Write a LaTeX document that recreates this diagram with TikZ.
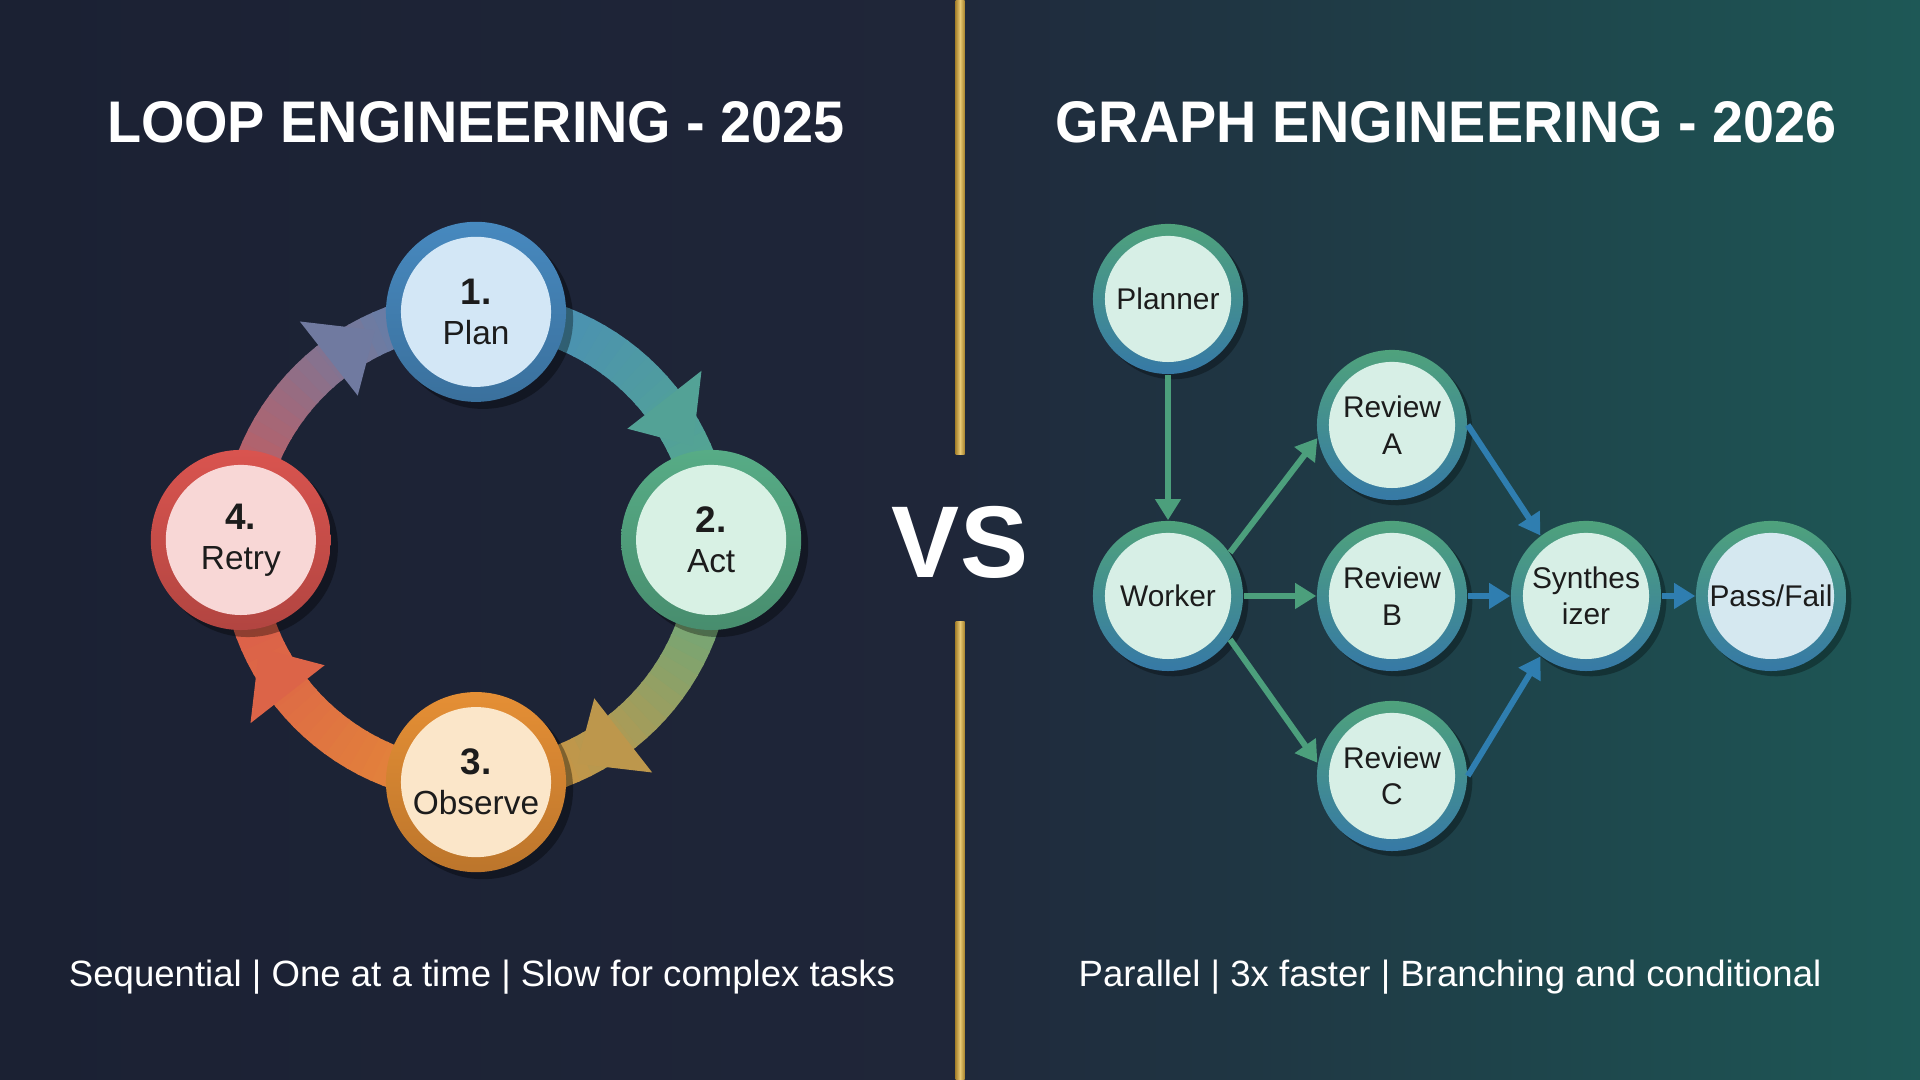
\documentclass[tikz,border=0pt]{standalone}
\usepackage{fontspec}
\setmainfont{Liberation Sans}
\newfontfamily\titrefont[FakeStretch=0.95]{Liberation Sans}
\usetikzlibrary{calc}
\usetikzlibrary{arrows.meta}
\usetikzlibrary{shadows}

\definecolor{fondg1}{HTML}{1B2133}
\definecolor{fondg2}{HTML}{1F2639}
\definecolor{fondd1}{HTML}{1F283B}
\definecolor{fondd2}{HTML}{1E5856}
\definecolor{ord}{HTML}{A98530}
\definecolor{ordclair}{HTML}{E8C873}
\definecolor{bleuplan}{HTML}{4789BF}
\definecolor{vertact}{HTML}{57AC86}
\definecolor{orobs}{HTML}{E58F35}
\definecolor{rougeret}{HTML}{D9544F}
\definecolor{bleuclair}{HTML}{D3E7F6}
\definecolor{vertclair}{HTML}{D8F1E4}
\definecolor{orclair}{HTML}{FBE6C9}
\definecolor{rougeclair}{HTML}{F8D7D6}
\definecolor{anneauv}{HTML}{4FA27C}
\definecolor{anneaub}{HTML}{3679A6}
\definecolor{menthe}{HTML}{D7EFE6}
\definecolor{bleuglace}{HTML}{D5E8F0}
\definecolor{vertfl}{HTML}{4C9F7C}
\definecolor{bleufl}{HTML}{2F7EB0}
\definecolor{texte}{HTML}{1C1C1C}

\begin{document}
\begin{tikzpicture}[x=0.01cm, y=0.01cm,
    etape/.style 2 args={circle, inner sep=0pt, minimum size=1.8cm,
      top color=#1, bottom color=#1!82!black,
      drop shadow={shadow xshift=2pt, shadow yshift=-2pt, fill=black, opacity=0.35},
      path picture={\fill[#2] (path picture bounding box.center) circle (0.75cm);},
      text=texte, align=center, font=\fontsize{9.5}{11.4}\selectfont},
    noeud/.style={circle, inner sep=0pt, minimum size=1.5cm,
      top color=anneauv, bottom color=anneaub,
      drop shadow={shadow xshift=1.5pt, shadow yshift=-1.5pt, fill=black, opacity=0.3},
      path picture={\fill[#1] (path picture bounding box.center) circle (0.63cm);},
      text=texte, align=center, font=\fontsize{8.5}{10.4}\selectfont},
    noeud/.default=menthe,
    bande/.style={line width=12pt, line cap=butt},
    flecheverte/.style={-{Triangle[width=7pt,length=6pt]}, line width=1.7pt, vertfl},
    flechebleue/.style={-{Triangle[width=7pt,length=6pt]}, line width=1.7pt, bleufl}]

  \useasboundingbox (0,0) rectangle (1920,1080);

  % Fonds
  \shade[left color=fondg1, right color=fondg2] (0,0) rectangle (960,1080);
  \shade[left color=fondd1, right color=fondd2] (960,0) rectangle (1920,1080);

  % Separateur dore
  \shade[left color=ord, right color=ord, middle color=ordclair] (955.5,625) rectangle (964.5,1080);
  \shade[left color=ord, right color=ord, middle color=ordclair] (955.5,0) rectangle (964.5,458);
  \node (vs) at (960,502) [anchor=base, text=white, font=\bfseries\fontsize{29}{34}\selectfont] {VS};

  % Titres
  \node (titreg) at (476,937) [anchor=base, text=white, font=\titrefont\bfseries\fontsize{16.7}{20}\selectfont] {LOOP ENGINEERING - 2025};
  \node (titred) at (1446,937) [anchor=base, text=white, font=\titrefont\bfseries\fontsize{16.7}{20}\selectfont] {GRAPH ENGINEERING - 2026};

  % Boucle : centre
  \coordinate (cyc) at (476,533);

  % Arcs en degrade
  \foreach \s/\ca/\cb in {90/bleuplan/vertact, 0/vertact/orobs, -90/orobs/rougeret, -180/rougeret/bleuplan}{
    \foreach \i in {0,...,29}{
      \pgfmathsetmacro\pa{\s-\i*3}
      \pgfmathsetmacro\pb{\s-\i*3-3.6}
      \pgfmathtruncatemacro\pc{100-\i*100/29}
      \draw[bande, color=\ca!\pc!\cb] ($(cyc)+(\pa:2.35cm)$) arc[start angle=\pa, end angle=\pb, radius=2.35cm];
    }
  }

  % Pointes des fleches
  \foreach \d/\ca/\cb in {0/bleuplan/vertact, -90/vertact/orobs, -180/orobs/rougeret, -270/rougeret/bleuplan}{
    \fill[\ca!28!\cb] ($(cyc)+({\d+38}:1.92cm)$) -- ($(cyc)+({\d+38}:2.86cm)$) -- ($(cyc)+({\d+25}:2.39cm)$) -- cycle;
  }

  % Etapes
  \node[etape={bleuplan}{bleuclair}] (plan) at ($(cyc)+(90:2.35cm)$) {{\bfseries\fontsize{10.5}{11.4}\selectfont 1.}\\Plan};
  \node[etape={vertact}{vertclair}] (act) at ($(cyc)+(2.35cm,0.07cm)$) {{\bfseries\fontsize{10.5}{11.4}\selectfont 2.}\\Act};
  \node[etape={orobs}{orclair}] (observe) at ($(cyc)+(-90:2.35cm)$) {{\bfseries\fontsize{10.5}{11.4}\selectfont 3.}\\Observe};
  \node[etape={rougeret}{rougeclair}] (retry) at ($(cyc)+(-2.35cm,0.07cm)$) {{\bfseries\fontsize{10.5}{11.4}\selectfont 4.}\\Retry};

  % Graphe
  \node[noeud] (planner) at (1168,781) {Planner};
  \node[noeud] (worker) at (1168,484) {Worker};
  \node[noeud] (revA) at (1392,655) {Review\\A};
  \node[noeud] (revB) at (1392,484) {Review\\B};
  \node[noeud] (revC) at (1392,304) {Review\\C};
  \node[noeud] (synth) at (1586,484) {Synthes\\izer};
  \node[noeud=bleuglace] (passfail) at (1771,484) {Pass/Fail};

  \draw[flecheverte] (planner) -- (worker);
  \draw[flecheverte] (worker.35) -- (revA.190);
  \draw[flecheverte] (worker) -- (revB);
  \draw[flecheverte] (worker.-35) -- (revC.170);
  \draw[flechebleue] (revA.0) -- (synth.127);
  \draw[flechebleue] (revB) -- (synth);
  \draw[flechebleue] (revC.0) -- (synth.233);
  \draw[flechebleue] (synth) -- (passfail);

  % Legendes du bas
  \node (legg) at (482,93) [anchor=base, text=white, font=\fontsize{10.4}{12}\selectfont] {Sequential | One at a time | Slow for complex tasks};
  \node (legd) at (1450,93) [anchor=base, text=white, font=\fontsize{10.4}{12}\selectfont] {Parallel | 3x faster | Branching and conditional};

\end{tikzpicture}
\end{document}
